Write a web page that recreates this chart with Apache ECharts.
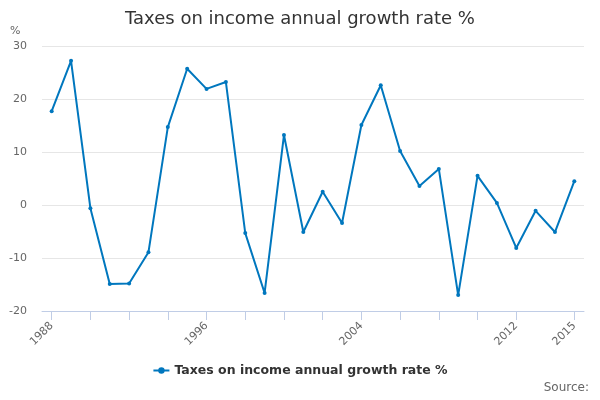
<!DOCTYPE html>
<html>
<head>
    <meta charset="UTF-8">
    <script type="text/javascript" src="https://cdn.jsdelivr.net/npm/echarts@6/dist/echarts.min.js"></script>
    <style>
        html, body { margin: 0; padding: 0; background: #fff; }
    </style>
</head>
<body>
    <div style="height: 400px;width: 600px" id="myDiv"></div>
    <script type="text/javascript">
        var years = ['1988','1989','1990','1991','1992','1993','1994','1995','1996','1997',
                     '1998','1999','2000','2001','2002','2003','2004','2005','2006','2007',
                     '2008','2009','2010','2011','2012','2013','2014','2015'];
        var growth = [17.7, 27.2, -0.6, -14.9, -14.8, -8.9, 14.7, 25.7, 21.9, 23.2,
                      -5.3, -16.6, 13.2, -5.1, 2.5, -3.4, 15.1, 22.6, 10.2, 3.6,
                      6.8, -17.0, 5.5, 0.4, -8.1, -1.1, -5.1, 4.5];
        var labelYears = ['1988', '1996', '2004', '2012', '2015'];
        var seriesName = 'Taxes on income annual growth rate %';

        var last = years.length - 1;
        var chart = echarts.init(document.getElementById("myDiv"));
        var option = {
            textStyle: { fontFamily: 'DejaVu Sans' },
            title: {
                text: 'Taxes on income annual growth rate %',
                left: 'center',
                top: 5,
                textStyle: { fontSize: 18, fontWeight: 'normal', color: '#333' }
            },
            graphic: [
                { type: 'text', left: 10, top: 26, style: { text: '%', fill: '#666', fontSize: 11, fontFamily: 'DejaVu Sans' } },
                { type: 'text', right: 11, top: 382, style: { text: 'Source:', fill: '#666', fontSize: 12, fontFamily: 'DejaVu Sans' } }
            ],
            legend: {
                bottom: 18,
                left: 'center',
                itemWidth: 16,
                itemHeight: 8,
                itemGap: 5,
                textStyle: { fontSize: 12.5, fontWeight: 'bold', color: '#333' },
                data: [seriesName]
            },
            grid: { left: 42, right: 16, top: 46, bottom: 89 },
            xAxis: {
                type: 'category',
                data: years,
                boundaryGap: true,
                axisLine: { show: true, onZero: false, lineStyle: { color: '#c0cde6', width: 1 } },
                axisTick: {
                    show: true,
                    inside: false,
                    alignWithLabel: true,
                    length: 9,
                    lineStyle: { color: '#c0cde6', width: 1 },
                    // every second year, last year instead of the one just before it
                    interval: function (i) { return (i % 2 === 0 && i < last - 1) || i === last; }
                },
                axisLabel: {
                    rotate: 45,
                    color: '#666',
                    fontSize: 11,
                    margin: 13,
                    interval: function (i, v) { return labelYears.indexOf(v) >= 0; }
                },
                splitLine: { show: false }
            },
            yAxis: {
                type: 'value',
                min: -20,
                max: 30,
                interval: 10,
                axisLine: { show: false },
                axisTick: { show: false },
                axisLabel: { color: '#666', fontSize: 11, margin: 15 },
                splitLine: { lineStyle: { color: '#e6e6e6' } }
            },
            series: [{
                name: seriesName,
                type: 'line',
                data: growth,
                color: '#0077be',
                symbol: 'circle',
                symbolSize: 4,
                showAllSymbol: true,
                lineStyle: { width: 2 }
            }]
        };
        chart.setOption(option);
    </script>
</body>
</html>
